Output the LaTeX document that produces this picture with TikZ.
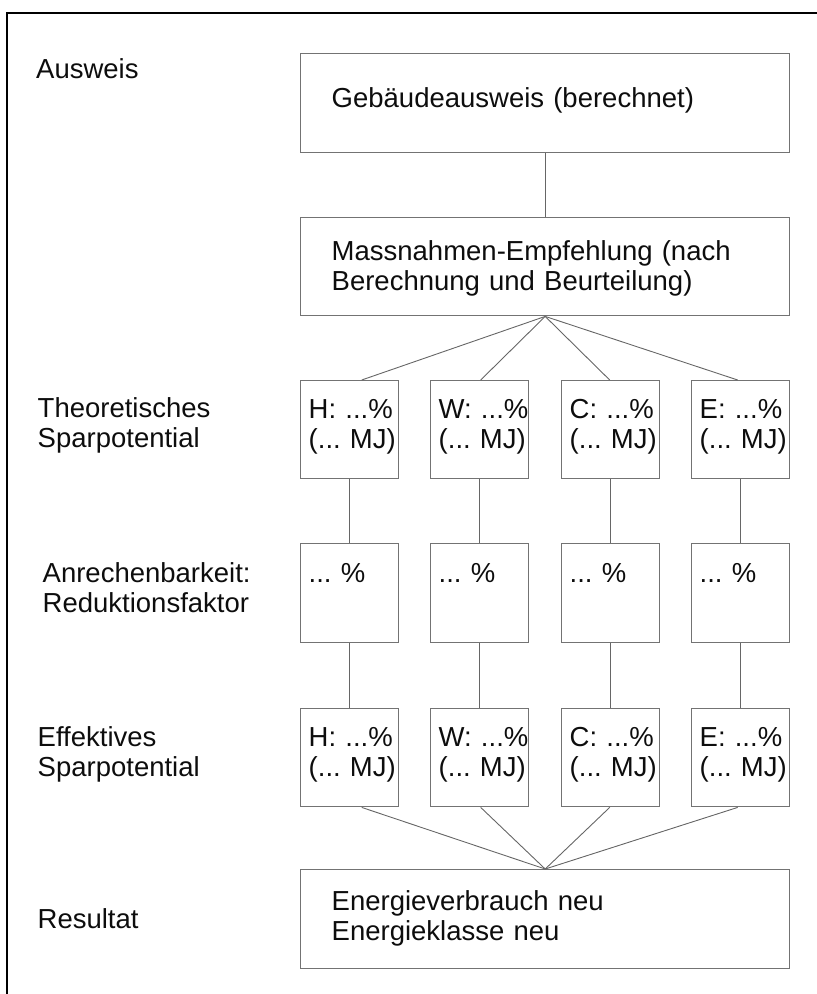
\documentclass[tikz,border=0pt]{standalone}
\usepackage{fontspec}
\setmainfont{Liberation Sans}
\definecolor{boxgray}{gray}{0.45}
\definecolor{linegray}{gray}{0.40}
\begin{document}
\begin{tikzpicture}[x=1pt,y=-1pt,
  txt/.style={font=\fontsize{27.5}{30}\selectfont, text=black!95},
  box/.style={txt, draw=boxgray, line width=1.4pt, inner ysep=0pt, anchor=north west, align=left},
  bigbox/.style={box, inner xsep=31pt, text width=427pt},
  smallbox/.style={box, inner xsep=8pt, text width=82pt, text height=38pt, text depth=60pt},
  lbl/.style={txt, inner sep=0pt, anchor=base west, align=left, text width=230pt},
  conn/.style={draw=linegray, line width=0.9pt},
  frame/.style={draw=black, line width=2pt}
]
\useasboundingbox (0,0) rectangle (817,994);
% outer frame
\coordinate (ftr) at (817,13);
\coordinate (ftl) at (6.7,13);
\coordinate (fbl) at (6.7,994);
\draw[frame] (ftr) -- (ftl) -- (fbl);

% row labels
\node[lbl] (lA) at (36,78) {Ausweis};
\node[lbl] (lT) at (37.5,417) {Theoretisches\\Sparpotential};
\node[lbl] (lR) at (42.5,582) {Anrechenbarkeit:\\Reduktionsfaktor};
\node[lbl] (lE) at (37.5,746) {Effektives\\Sparpotential};
\node[lbl] (lRes) at (37.5,928) {Resultat};

% big boxes
\node[bigbox, text height=54pt, text depth=45pt] (b1) at (300,53) {Gebäudeausweis (berechnet)};
\node[bigbox, text height=43pt, text depth=55pt] (b2) at (300,217) {Massnahmen-Empfehlung (nach\\Berechnung und Beurteilung)};
\node[bigbox, text height=41pt, text depth=58pt] (b4) at (300,869) {Energieverbrauch neu\\Energieklasse neu};

% row 1: theoretical saving
\node[smallbox] (t1) at (300,380) {H:~...\%\\(...~MJ)};
\node[smallbox] (t2) at (430,380) {W:~...\%\\(...~MJ)};
\node[smallbox] (t3) at (561,380) {C:~...\%\\(...~MJ)};
\node[smallbox] (t4) at (691,380) {E:~...\%\\(...~MJ)};

% row 2: reduction factor
\node[smallbox, text height=39pt, text depth=60pt] (r1) at (300,543) {...~\%};
\node[smallbox, text height=39pt, text depth=60pt] (r2) at (430,543) {...~\%};
\node[smallbox, text height=39pt, text depth=60pt] (r3) at (561,543) {...~\%};
\node[smallbox, text height=39pt, text depth=60pt] (r4) at (691,543) {...~\%};

% row 3: effective saving
\node[smallbox] (e1) at (300,708) {H:~...\%\\(...~MJ)};
\node[smallbox] (e2) at (430,708) {W:~...\%\\(...~MJ)};
\node[smallbox] (e3) at (561,708) {C:~...\%\\(...~MJ)};
\node[smallbox] (e4) at (691,708) {E:~...\%\\(...~MJ)};

% connectors
\draw[conn] (b1.south) -- (b2.north);
\draw[conn] (b2.south) -- ([xshift=12pt]t1.north);
\draw[conn] (b2.south) -- ([xshift=1pt]t2.north);
\draw[conn] (b2.south) -- ([xshift=-1pt]t3.north);
\draw[conn] (b2.south) -- ([xshift=-3pt]t4.north);
\foreach \i in {1,2,3,4}{
  \draw[conn] (t\i.south) -- (r\i.north);
  \draw[conn] (r\i.south) -- (e\i.north);
}
\draw[conn] ([xshift=12pt]e1.south) -- (b4.north);
\draw[conn] ([xshift=1pt]e2.south) -- (b4.north);
\draw[conn] ([xshift=-1pt]e3.south) -- (b4.north);
\draw[conn] ([xshift=-3pt]e4.south) -- (b4.north);
\end{tikzpicture}
\end{document}
